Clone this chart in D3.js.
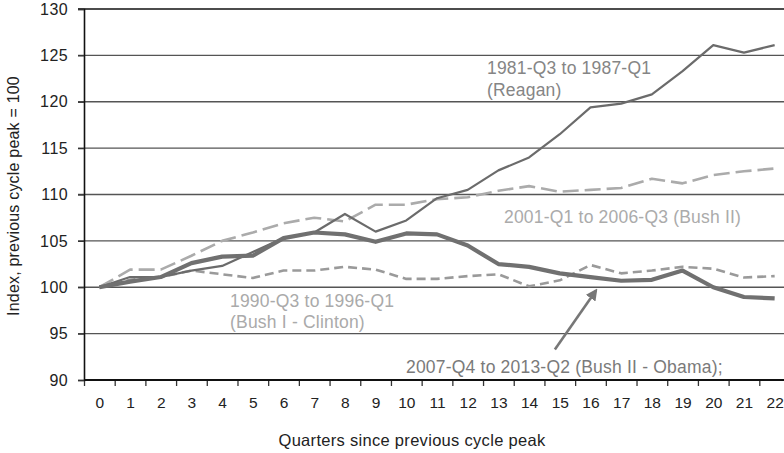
<!DOCTYPE html>
<html><head><meta charset="utf-8">
<script src="https://cdn.jsdelivr.net/npm/d3@7"></script>
<style>
html,body{margin:0;padding:0;background:#fff;}
svg text{font-family:"Liberation Sans",Arial,Helvetica,sans-serif;}
</style></head>
<body><svg id="c" width="784" height="453"></svg>
<script>
const quarters = d3.range(0, 23);
const reagan  = [100,101.1,101.1,101.8,102.3,103.8,105.3,105.9,107.9,106.0,107.2,109.6,110.5,112.6,114.0,116.5,119.4,119.8,120.8,123.3,126.1,125.3,126.1];
const bush2   = [100,101.9,101.9,103.4,105.0,105.9,106.9,107.5,107.1,108.9,108.9,109.5,109.7,110.4,110.9,110.3,110.5,110.7,111.7,111.2,112.1,112.5,112.8];
const clinton = [100,100.8,101.1,101.8,101.4,101.0,101.8,101.8,102.2,101.9,100.9,100.9,101.2,101.4,100.1,100.75,102.4,101.5,101.8,102.2,102.0,101.05,101.2];
const obama   = [100,100.6,101.1,102.6,103.3,103.4,105.3,105.9,105.7,104.9,105.8,105.7,104.5,102.5,102.2,101.5,101.1,100.7,100.8,101.8,100.0,98.95,98.8];
const yTicks = [90,95,100,105,110,115,120,125,130];

const svg = d3.select("#c");
const x = d3.scaleLinear().domain([-0.5, 22.5]).range([84, 790]);
const y = d3.scaleLinear().domain([90, 130]).range([380, 9]);

// grid lines
svg.append("g").selectAll("line").data(yTicks.filter(v => v > 90)).join("line")
  .attr("x1", 78).attr("x2", 784)
  .attr("y1", d => y(d)).attr("y2", d => y(d))
  .attr("stroke", d => d === 130 ? "#111" : "#555")
  .attr("stroke-width", d => d === 130 ? 1.6 : 1.3);

// y axis
const yAxis = svg.append("g").attr("transform", "translate(84,0)")
  .call(d3.axisLeft(y).tickValues(yTicks).tickSize(6).tickPadding(10));
yAxis.select(".domain").attr("stroke", "#111").attr("stroke-width", 1.6);
yAxis.selectAll(".tick line").attr("stroke", "#333").attr("stroke-width", 1.3);
yAxis.selectAll("text").attr("font-size", 16).attr("fill", "#222").attr("letter-spacing", 0.4);

// x axis: boundary ticks
const xb = svg.append("g").attr("transform", "translate(0,380)")
  .call(d3.axisBottom(x).tickValues(d3.range(-0.5, 23, 1)).tickSize(6).tickFormat(""));
xb.select(".domain").remove();
xb.selectAll(".tick line").attr("stroke", "#333").attr("stroke-width", 1.3);
// x axis labels
const xl = svg.append("g").attr("transform", "translate(0,380)")
  .call(d3.axisBottom(x).tickValues(quarters).tickSize(0).tickPadding(17));
xl.select(".domain").remove();
xl.selectAll("text").attr("font-size", 15.5).attr("fill", "#222");
svg.append("line").attr("x1", 84).attr("x2", 784).attr("y1", 380).attr("y2", 380)
  .attr("stroke", "#111").attr("stroke-width", 2);

// titles
svg.append("text").attr("x", 412).attr("y", 446).attr("text-anchor", "middle")
  .attr("font-size", 16.5).attr("fill", "#222").attr("letter-spacing", 0.3)
  .text("Quarters since previous cycle peak");
svg.append("text").attr("transform", "translate(19,196) rotate(-90)").attr("text-anchor", "middle")
  .attr("font-size", 16).attr("fill", "#222").attr("letter-spacing", 0.2)
  .text("Index, previous cycle peak = 100");

// lines
const line = d3.line().x((d, i) => x(i)).y(d => y(d));
const series = [
  {data: clinton, color: "#9a9a9a", w: 2.6, dash: "9,5"},
  {data: bush2,   color: "#ababab", w: 2.6, dash: "16,6"},
  {data: reagan,  color: "#6b6b6b", w: 2.2, dash: null},
  {data: obama,   color: "#707070", w: 4.2, dash: null}
];
svg.append("g").selectAll("path").data(series).join("path")
  .attr("d", d => line(d.data))
  .attr("fill", "none")
  .attr("stroke", d => d.color)
  .attr("stroke-width", d => d.w)
  .attr("stroke-dasharray", d => d.dash)
  .attr("stroke-linejoin", "round");

// annotations
const ann = svg.append("g").attr("font-size", 17.5).attr("letter-spacing", 0.2);
ann.append("text").attr("x", 487).attr("y", 74).attr("fill", "#858585").text("1981-Q3 to 1987-Q1");
ann.append("text").attr("x", 487).attr("y", 96).attr("fill", "#858585").text("(Reagan)");
ann.append("text").attr("x", 504).attr("y", 223).attr("fill", "#ababab").text("2001-Q1 to 2006-Q3 (Bush II)");
ann.append("text").attr("x", 230).attr("y", 307).attr("fill", "#aaaaaa").text("1990-Q3 to 1996-Q1");
ann.append("text").attr("x", 230).attr("y", 328).attr("fill", "#aaaaaa").text("(Bush I - Clinton)");
ann.append("text").attr("x", 406).attr("y", 373).attr("fill", "#7a7a7a").text("2007-Q4 to 2013-Q2 (Bush II - Obama);");

// arrow
const defs = svg.append("defs");
defs.append("marker").attr("id", "ah").attr("viewBox", "0 0 10 10").attr("refX", 8).attr("refY", 5)
  .attr("markerWidth", 4.5).attr("markerHeight", 4.5).attr("orient", "auto")
  .append("path").attr("d", "M0,0L10,5L0,10z").attr("fill", "#777");
svg.append("line")
  .attr("x1", x(14.84)).attr("y1", y(93.3))
  .attr("x2", x(16.18)).attr("y2", y(99.65))
  .attr("stroke", "#777").attr("stroke-width", 2.6)
  .attr("marker-end", "url(#ah)");
</script></body></html>
